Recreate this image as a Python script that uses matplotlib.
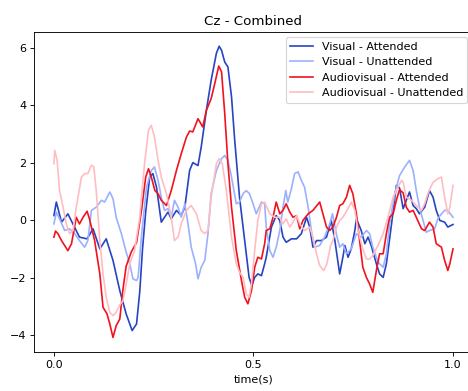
import numpy as np
import matplotlib.pyplot as plt

# Visual - Attended
t_va = [0.000, 0.006, 0.019, 0.035, 0.064, 0.083, 0.098, 0.115, 0.131, 0.148,
        0.165, 0.181, 0.196, 0.207, 0.215, 0.222, 0.230, 0.240, 0.248, 0.257,
        0.269, 0.277, 0.286, 0.294, 0.307, 0.319, 0.328, 0.340, 0.348, 0.361,
        0.369, 0.382, 0.394, 0.407, 0.414, 0.420, 0.428, 0.436, 0.445, 0.453,
        0.465, 0.478, 0.489, 0.496, 0.503, 0.511, 0.520, 0.528, 0.532, 0.545,
        0.557, 0.566, 0.574, 0.582, 0.595, 0.608, 0.620, 0.633, 0.641, 0.649,
        0.658, 0.670, 0.683, 0.695, 0.704, 0.716, 0.724, 0.729, 0.737, 0.745,
        0.754, 0.758, 0.770, 0.779, 0.787, 0.795, 0.808, 0.816, 0.825, 0.833,
        0.846, 0.858, 0.866, 0.875, 0.883, 0.891, 0.900, 0.908, 0.916, 0.929,
        0.941, 0.950, 0.958, 0.967, 0.979, 0.987, 1.000]
v_va = [0.16, 0.63, -0.07, 0.22, -0.59, -0.65, -0.30, -1.00, -0.65, -1.40,
        -2.45, -3.26, -3.84, -3.61, -2.50, -1.00, 0.30, 1.50, 1.62, 1.15,
        -0.07, 0.10, 0.28, 0.05, 0.34, 0.16, 0.45, 1.73, 2.00, 1.90,
        2.54, 3.82, 4.87, 5.80, 6.05, 5.91, 5.50, 5.33, 4.29, 2.78,
        0.80, -0.71, -1.99, -2.28, -1.99, -1.87, -1.93, -1.52, -1.29, -0.24,
        0.16, -0.01, -0.59, -0.77, -0.65, -0.65, -0.47, 0.10, -0.24, -0.94,
        -0.71, -0.71, -0.59, -0.01, -0.71, -1.87, -1.29, -0.88, -1.29, -1.00,
        -0.36, 0.05, -0.36, -0.82, -0.59, -0.88, -1.52, -1.87, -1.99, -1.52,
        -0.13, 1.21, 1.12, 0.40, 0.69, 0.98, 0.51, 0.40, 0.22, 0.45,
        1.03, 0.80, 0.34, -0.01, -0.07, -0.24, -0.15]

# Visual - Unattended
t_vu = [0.000, 0.006, 0.014, 0.027, 0.039, 0.052, 0.064, 0.077, 0.085, 0.094,
        0.106, 0.119, 0.127, 0.140, 0.148, 0.156, 0.169, 0.180, 0.190, 0.198,
        0.207, 0.211, 0.219, 0.232, 0.244, 0.252, 0.261, 0.269, 0.277, 0.286,
        0.294, 0.302, 0.311, 0.319, 0.328, 0.336, 0.344, 0.355, 0.361, 0.369,
        0.378, 0.386, 0.394, 0.407, 0.420, 0.428, 0.436, 0.445, 0.457, 0.465,
        0.474, 0.482, 0.490, 0.499, 0.507, 0.520, 0.528, 0.532, 0.541, 0.549,
        0.557, 0.566, 0.574, 0.581, 0.586, 0.595, 0.603, 0.612, 0.620, 0.628,
        0.637, 0.645, 0.653, 0.666, 0.678, 0.691, 0.698, 0.708, 0.716, 0.724,
        0.733, 0.745, 0.758, 0.770, 0.783, 0.791, 0.799, 0.812, 0.825, 0.833,
        0.841, 0.854, 0.866, 0.879, 0.891, 0.900, 0.908, 0.916, 0.925, 0.933,
        0.941, 0.954, 0.962, 0.971, 0.979, 0.987, 1.000]
v_vu = [-0.13, 0.28, 0.05, -0.36, -0.30, -0.47, -0.71, -0.94, -0.71, 0.34,
        0.45, 0.69, 0.63, 0.98, 0.75, 0.10, -0.47, -1.06, -1.52, -2.04,
        -2.10, -1.99, -0.59, 1.15, 1.73, 1.85, 1.38, 0.80, 0.34, 0.40,
        0.10, 0.69, 0.45, 0.10, 0.57, -0.13, -0.94, -1.52, -2.04, -1.64,
        -1.40, -0.47, 0.92, 1.73, 2.14, 2.25, 2.08, 1.50, 0.57, 0.63,
        0.92, 1.03, 0.92, 0.57, 0.22, 0.63, 0.57, -0.24, -1.06, -1.29,
        -0.94, -0.36, 0.45, 1.03, 0.63, 1.09, 1.62, 1.68, 1.38, 1.15,
        0.45, -0.36, -0.94, -0.88, -0.59, -0.13, 0.22, -0.50, -0.94, -0.82,
        -1.17, -1.00, -0.47, -0.59, -0.36, -0.47, -0.94, -1.46, -1.64, -1.17,
        -0.13, 0.92, 1.55, 1.85, 2.08, 1.73, 1.03, 0.45, -0.01, -0.42,
        -0.36, -0.30, 0.05, 0.22, 0.34, 0.34, 0.10]

# Audiovisual - Attended
t_aa = [0.000, 0.004, 0.010, 0.019, 0.035, 0.044, 0.056, 0.064, 0.073, 0.083,
        0.089, 0.102, 0.115, 0.123, 0.133, 0.140, 0.148, 0.156, 0.165, 0.173,
        0.181, 0.194, 0.207, 0.219, 0.230, 0.237, 0.244, 0.253, 0.261, 0.269,
        0.282, 0.294, 0.307, 0.319, 0.332, 0.340, 0.348, 0.361, 0.373, 0.382,
        0.394, 0.403, 0.413, 0.420, 0.428, 0.436, 0.445, 0.457, 0.470, 0.478,
        0.486, 0.495, 0.503, 0.511, 0.520, 0.528, 0.532, 0.541, 0.549, 0.557,
        0.566, 0.574, 0.582, 0.591, 0.599, 0.608, 0.616, 0.624, 0.637, 0.649,
        0.666, 0.674, 0.683, 0.691, 0.699, 0.708, 0.716, 0.724, 0.733, 0.741,
        0.749, 0.758, 0.766, 0.774, 0.783, 0.791, 0.799, 0.808, 0.816, 0.825,
        0.833, 0.841, 0.850, 0.858, 0.866, 0.875, 0.883, 0.891, 0.900, 0.908,
        0.921, 0.929, 0.941, 0.950, 0.958, 0.971, 0.979, 0.987, 0.992, 1.000]
v_aa = [-0.59, -0.38, -0.47, -0.71, -1.06, -0.82, 0.10, -0.13, 0.10, 0.31,
        0.05, -0.71, -1.87, -3.03, -3.26, -3.61, -4.08, -3.67, -3.44, -2.40,
        -1.60, -1.10, -0.78, 0.30, 1.50, 1.79, 1.50, 1.03, 0.92, 0.69,
        0.51, 1.03, 1.73, 2.31, 2.89, 3.10, 3.07, 3.53, 3.24, 3.82,
        4.23, 4.75, 5.36, 5.16, 3.71, 1.96, 0.45, -1.06, -2.10, -2.68,
        -2.91, -2.45, -1.64, -1.29, -1.35, -0.82, -0.36, -0.30, 0.10, 0.63,
        0.22, 0.34, 0.57, 0.28, 0.10, 0.16, -0.30, -0.01, 0.22, 0.34,
        0.63, 0.22, -0.24, -0.36, -0.24, 0.10, 0.51, 0.57, 0.80, 1.21,
        0.92, 0.22, -0.71, -1.64, -1.99, -2.22, -2.51, -1.75, -1.17, -1.17,
        -0.47, 0.10, 0.22, 0.69, 1.06, 0.95, 0.45, 0.28, 0.34, 0.10,
        -0.30, -0.36, -0.07, -0.24, -0.82, -0.94, -1.40, -1.75, -1.52, -1.00]

# Audiovisual - Unattended
t_au = [0.000, 0.002, 0.008, 0.014, 0.023, 0.031, 0.039, 0.048, 0.056, 0.069,
        0.077, 0.085, 0.094, 0.100, 0.106, 0.115, 0.123, 0.131, 0.140, 0.148,
        0.156, 0.165, 0.173, 0.180, 0.190, 0.202, 0.215, 0.227, 0.237, 0.244,
        0.252, 0.261, 0.269, 0.282, 0.294, 0.302, 0.311, 0.319, 0.332, 0.344,
        0.357, 0.369, 0.378, 0.386, 0.394, 0.407, 0.414, 0.422, 0.432, 0.445,
        0.457, 0.465, 0.474, 0.482, 0.489, 0.495, 0.503, 0.511, 0.520, 0.528,
        0.541, 0.553, 0.566, 0.574, 0.582, 0.591, 0.599, 0.608, 0.616, 0.628,
        0.641, 0.649, 0.658, 0.666, 0.676, 0.684, 0.693, 0.699, 0.708, 0.716,
        0.724, 0.737, 0.745, 0.754, 0.762, 0.774, 0.783, 0.791, 0.799, 0.812,
        0.825, 0.837, 0.850, 0.862, 0.871, 0.875, 0.883, 0.896, 0.904, 0.912,
        0.921, 0.929, 0.937, 0.950, 0.962, 0.971, 0.979, 0.987, 0.992, 1.000]
v_au = [1.96, 2.43, 2.08, 1.03, 0.45, -0.13, -0.47, -0.36, 0.45, 1.50,
        1.62, 1.62, 1.91, 1.85, 1.03, -0.71, -1.87, -2.68, -3.21, -3.32,
        -3.21, -2.95, -2.80, -2.30, -1.52, -1.06, 0.10, 1.96, 3.13, 3.30,
        2.89, 2.08, 1.50, 0.92, 0.10, -0.71, -0.59, -0.13, 0.34, 0.51,
        0.22, -0.36, -0.47, -0.36, 0.80, 1.96, 2.14, 1.96, 1.03, -0.59,
        -1.52, -1.81, -1.99, -2.57, -2.68, -2.22, -1.06, -0.01, 0.57, 0.63,
        0.22, 0.10, 0.10, -0.13, 0.05, -0.24, -0.07, 0.16, -0.13, -0.36,
        -0.24, -0.59, -1.17, -1.58, -1.75, -1.52, -0.90, -0.71, -0.24, -0.01,
        0.10, 0.40, 0.63, 0.34, -0.36, -1.00, -1.35, -1.35, -1.23, -0.88,
        -0.47, 0.10, 0.80, 1.15, 1.38, 1.32, 0.80, 0.69, 0.57, 0.45,
        0.34, 0.57, 0.92, 1.32, 1.44, 1.50, 0.80, 0.22, 0.45, 1.21]

fig = plt.figure(figsize=(5.85, 4.8875), dpi=80)
ax = fig.add_axes([0.0726, 0.0997, 0.938, 0.8193])

ax.plot(t_va, v_va, color='#2744c1', label='Visual - Attended')
ax.plot(t_vu, v_vu, color='#9bb1fe', label='Visual - Unattended')
ax.plot(t_aa, v_aa, color='#f2121d', label='Audiovisual - Attended')
ax.plot(t_au, v_au, color='#ffbdc2', label='Audiovisual - Unattended')

ax.set_xlim(-0.05, 1.05)
ax.set_xticks([0.0, 0.5, 1.0])
ax.set_xlabel('time(s)')
ax.set_title('Cz - Combined')
ax.legend(loc='upper right')

fig.savefig('out.png', dpi=80)
